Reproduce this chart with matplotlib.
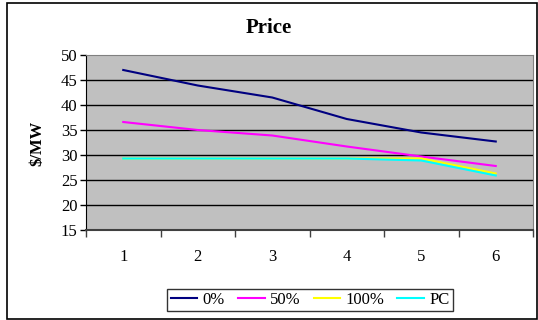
import matplotlib.pyplot as plt
from matplotlib.patches import Rectangle

plt.rcParams["font.family"] = ["Liberation Serif", "DejaVu Serif"]

PLOT_BG = "#c0c0c0"
categories = [1, 2, 3, 4, 5, 6]
series_names = ["0%", "50%", "100%", "PC"]
price_0 = [47.0, 43.9, 41.5, 37.2, 34.5, 32.7]
price_50 = [36.6, 35.0, 33.9, 31.7, 29.7, 27.8]
price_100 = [29.3, 29.3, 29.3, 29.3, 29.3, 26.3]
price_pc = [29.3, 29.3, 29.3, 29.3, 28.9, 25.9]
colors = ["#000080", "#ff00ff", "#ffff00", "#00ffff"]
y_ticks = [15, 20, 25, 30, 35, 40, 45, 50]


def main():
    fig = plt.figure(figsize=(5.38, 3.2), dpi=100)
    fig.patch.set_facecolor("white")
    ax = fig.add_axes([86 / 538, 1 - 230 / 320, 447 / 538, 175 / 320])
    ax.set_facecolor(PLOT_BG)

    # outer chart frame
    fig.patches.append(Rectangle((7 / 538, 1 / 320), 530 / 538, 316 / 320,
                                 transform=fig.transFigure, fill=False,
                                 edgecolor="black", linewidth=1.2))

    for y in y_ticks[1:-1]:
        ax.axhline(y, color="black", linewidth=1.0, zorder=1)

    for values, name, color in zip([price_0, price_50, price_100, price_pc], series_names, colors):
        ax.plot(categories, values, color=color, linewidth=1.5, label=name, zorder=3)

    ax.set_xlim(0.5, 6.5)
    ax.set_ylim(15, 50)
    ax.set_yticks(y_ticks)
    ax.tick_params(axis="y", direction="out", length=4, width=1, labelsize=12, pad=2)
    ax.set_xticks([c + 0.5 for c in [0] + categories])
    ax.set_xticklabels([])
    ax.set_xticks(categories, minor=True)
    ax.set_xticklabels([str(c) for c in categories], minor=True)
    ax.tick_params(axis="x", which="major", direction="out", length=5, width=1, color="#404040")
    ax.tick_params(axis="x", which="minor", length=0, labelsize=12, pad=14)

    ax.spines["left"].set_color("black")
    ax.spines["bottom"].set_color("#404040")
    ax.spines["bottom"].set_linewidth(1.5)
    ax.spines["top"].set_color("#808080")
    ax.spines["right"].set_color("#808080")

    fig.text(0.5, 1 - 28 / 320, "Price", ha="center", va="center", fontsize=15, fontweight="bold")
    fig.text(37 / 538, 1 - 143 / 320, "$/MW", ha="center", va="center", rotation=90,
             fontsize=12, fontweight="bold")

    leg = fig.legend(loc="center", bbox_to_anchor=(310 / 538, 1 - 300 / 320), ncol=4,
                     fontsize=12, frameon=True, fancybox=False, edgecolor="black",
                     handlelength=1.6, handletextpad=0.3, columnspacing=0.8,
                     borderpad=0.2, borderaxespad=0)
    leg.get_frame().set_linewidth(1.0)

    fig.savefig("out.png", dpi=100, facecolor="white")


if __name__ == "__main__":
    main()
